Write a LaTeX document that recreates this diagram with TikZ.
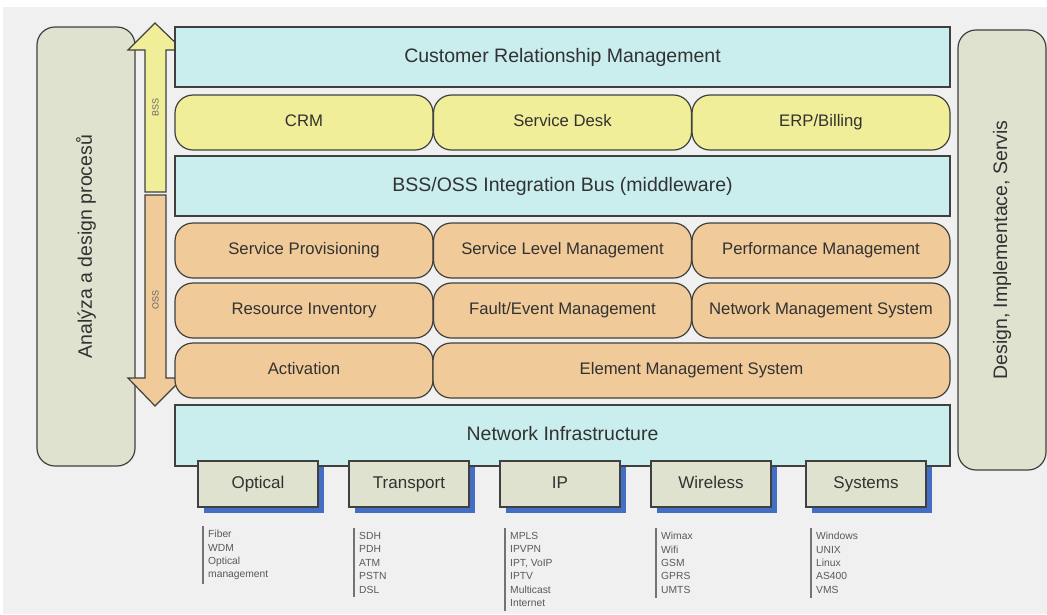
\documentclass[tikz,border=0pt]{standalone}
\usepackage{fontspec}
\setmainfont{Liberation Sans}
\usepackage{xcolor}
\usetikzlibrary{shapes.geometric, arrows, shadows}

\definecolor{pagegrey}{RGB}{240,240,240}
\definecolor{barcyan}{RGB}{202,238,238}
\definecolor{bssyellow}{RGB}{240,238,152}
\definecolor{ossorange}{RGB}{240,202,152}
\definecolor{panelgrey}{RGB}{222,226,206}
\definecolor{tagblue}{RGB}{66,110,196}
\definecolor{edgegrey}{RGB}{64,64,64}
\definecolor{inkgrey}{RGB}{50,50,50}

\begin{document}
\begin{tikzpicture}[x=1pt, y=-1pt, font=\fontsize{16.7}{19}\selectfont, text=inkgrey]
    % Define the style for the nodes
    \tikzstyle{bar} = [rectangle, draw=edgegrey, line width=1.2pt, fill=barcyan, minimum width=775pt, minimum height=60pt, text height=14pt, text depth=4pt, font=\fontsize{19.5}{22}\selectfont]
    \tikzstyle{module} = [rectangle, rounded corners=18pt, draw=edgegrey, line width=1.2pt, minimum width=258pt, minimum height=55pt, text height=12pt, text depth=3.5pt]
    \tikzstyle{bss} = [module, fill=bssyellow]
    \tikzstyle{oss} = [module, fill=ossorange]
    \tikzstyle{panel} = [rectangle, rounded corners=18pt, draw=edgegrey, line width=1.2pt, fill=panelgrey, minimum width=440pt, minimum height=88pt, rotate=90, font=\fontsize{19.5}{22}\selectfont]
    \tikzstyle{tech} = [rectangle, draw=edgegrey, line width=1.4pt, fill=panelgrey, minimum width=120pt, minimum height=46pt, text height=12.5pt, text depth=3.5pt, font=\fontsize{17}{19}\selectfont, drop shadow={shadow xshift=6pt, shadow yshift=-6pt, fill=tagblue, opacity=1}]
    \tikzstyle{items} = [align=left, anchor=north west, inner xsep=5pt, inner ysep=4pt, text=black!65, font=\fontsize{10.3}{13.4}\selectfont]
    \tikzstyle{itembar} = [draw=black!55, line width=1.2pt]
    \tikzstyle{arrowbody} = [draw=edgegrey, line width=1.2pt, line join=miter]

    % Background
    \fill[white] (0,0) rectangle (1047,614);
    \fill[pagegrey] (3,7) rectangle (1047,614);
    \useasboundingbox (0,0) rectangle (1047,614);

    % Side panels
    \node [panel, minimum width=439pt, minimum height=98pt] (analysis) at (86,246.5) {Analýza a design procesů};
    \node [panel] (design) at (1002,250) {Design, Implementace, Servis};

    % BSS / OSS arrow
    \draw [arrowbody, fill=bssyellow] (155,23) -- (183,50) -- (166,50) -- (166,192) -- (145,192) -- (145,50) -- (128,50) -- cycle;
    \draw [arrowbody, fill=ossorange] (145,195) -- (166,195) -- (166,378) -- (183,378) -- (155,406) -- (128,378) -- (145,378) -- cycle;
    \node [rotate=90, font=\fontsize{9}{10}\selectfont, text=black!60] (bsslabel) at (155.5,107) {BSS};
    \node [rotate=90, font=\fontsize{9}{10}\selectfont, text=black!60] (osslabel) at (155.5,300) {OSS};

    % Layers
    \node [bar] (customer) at (562.5,57) {Customer Relationship Management};
    \node [bss] (crm) at (304,122.5) {CRM};
    \node [bss] (desk) at (562.5,122.5) {Service Desk};
    \node [bss] (billing) at (821,122.5) {ERP/Billing};
    \node [bar] (bus) at (562.5,186) {BSS/OSS Integration Bus (middleware)};
    \node [oss] (provisioning) at (304,250.5) {Service Provisioning};
    \node [oss] (slm) at (562.5,250.5) {Service Level Management};
    \node [oss] (performance) at (821,250.5) {Performance Management};
    \node [oss] (inventory) at (304,310.5) {Resource Inventory};
    \node [oss] (fault) at (562.5,310.5) {Fault/Event Management};
    \node [oss] (nms) at (821,310.5) {Network Management System};
    \node [oss] (activation) at (304,370.5) {Activation};
    \node [oss, minimum width=517pt] (ems) at (691.5,370.5) {Element Management System};
    \node [bar, minimum height=61pt] (network) at (562.5,435.5) {Network Infrastructure};

    % Technologies
    \node [tech] (optical) at (258,484) {Optical};
    \node [tech] (transport) at (409,484) {Transport};
    \node [tech] (ip) at (560,484) {IP};
    \node [tech] (wireless) at (711,484) {Wireless};
    \node [tech] (systems) at (866,484) {Systems};

    \node [items] (opticallist) at (203,526) {Fiber\\WDM\\Optical\\management};
    \node [items] (transportlist) at (354,528) {SDH\\PDH\\ATM\\PSTN\\DSL};
    \node [items] (iplist) at (505,528) {MPLS\\IPVPN\\IPT, VoIP\\IPTV\\Multicast\\Internet};
    \node [items] (wirelesslist) at (656,528) {Wimax\\Wifi\\GSM\\GPRS\\UMTS};
    \node [items] (systemslist) at (811,528) {Windows\\UNIX\\Linux\\AS400\\VMS};
    \foreach \n in {opticallist, transportlist, iplist, wirelesslist, systemslist}
        \path [itembar] (\n.north west) -- (\n.south west);

\end{tikzpicture}
\end{document}
